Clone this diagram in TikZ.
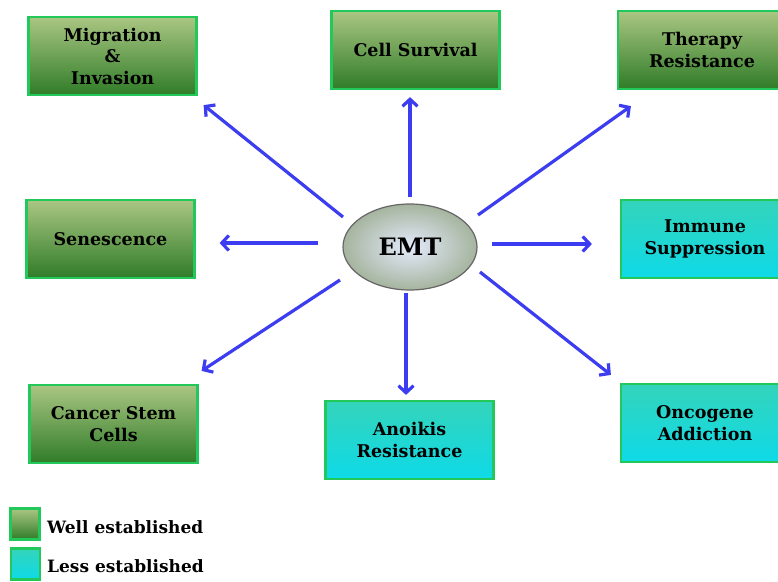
\documentclass[tikz,border=0pt]{standalone}
\usepackage{fontspec}
\setmainfont{DejaVu Serif}
\usetikzlibrary{arrows.meta,shapes.geometric}
\definecolor{gtop}{RGB}{170,198,130}
\definecolor{gbot}{RGB}{48,124,40}
\definecolor{ctop}{RGB}{52,212,186}
\definecolor{cbot}{RGB}{14,218,232}
\definecolor{boxline}{RGB}{34,200,90}
\definecolor{arrblue}{RGB}{60,60,240}
\definecolor{ellin}{RGB}{228,235,252}
\definecolor{ellout}{RGB}{165,180,158}
\begin{document}
\begin{tikzpicture}[x=1pt,y=-1pt,
  basebox/.style={draw=boxline,line width=2.2pt,minimum width=168pt,minimum height=78pt,
    align=center,inner sep=2pt,font=\fontsize{17.5}{21.5}\selectfont\bfseries},
  wbox/.style={basebox,top color=gtop,bottom color=gbot},
  lbox/.style={basebox,top color=ctop,bottom color=cbot},
  legw/.style={draw=boxline,line width=2.2pt,minimum width=29pt,minimum height=31pt,inner sep=0pt,top color=gtop,bottom color=gbot},
  legl/.style={draw=boxline,line width=2.2pt,minimum width=29pt,minimum height=31pt,inner sep=0pt,top color=ctop,bottom color=cbot},
  legtext/.style={anchor=west,inner sep=0pt,font=\fontsize{17}{20}\selectfont\bfseries},
  arr/.style={draw=arrblue,line width=3.2pt,-{Straight Barb[length=7pt,width=15pt]}}
]
\clip (0,0) rectangle (778,581);
\fill[white] (0,0) rectangle (778,581);

\node[ellipse,draw=gray!80!black,line width=1.2pt,inner color=ellin,outer color=ellout,
  minimum width=134pt,minimum height=86pt,inner sep=0pt,font=\fontsize{24}{28}\selectfont\bfseries]
  (emt) at (410,247) {EMT};

\node[wbox] (mig)  at (112.5,56) {Migration\\\&\\Invasion};
\node[wbox] (surv) at (415.5,50) {Cell Survival};
\node[wbox] (ther) at (702,50)   {Therapy\\Resistance};
\node[wbox] (sen)  at (110.5,239) {Senescence};
\node[lbox] (imm)  at (705,239)  {Immune\\Suppression};
\node[wbox] (csc)  at (113.5,424) {Cancer Stem\\Cells};
\node[lbox] (ano)  at (409.5,440) {Anoikis\\Resistance};
\node[lbox] (onc)  at (705,423)  {Oncogene\\Addiction};

\draw[arr] ([shift={(-67,-30)}]emt.center) -- ([shift={(6,9)}]mig.south east);
\draw[arr] ([shift={(0,-50)}]emt.center) -- ([shift={(-5.5,7)}]surv.south);
\draw[arr] ([shift={(68,-32)}]emt.center) -- ([shift={(14,16)}]ther.south west);
\draw[arr] ([shift={(-92,-4)}]emt.center) -- ([shift={(24,4)}]sen.east);
\draw[arr] ([shift={(82,-3)}]emt.center) -- ([shift={(-28,5)}]imm.west);
\draw[arr] ([shift={(-70,33)}]emt.center) -- ([shift={(3,-13)}]csc.north east);
\draw[arr] ([shift={(-4,46)}]emt.center) -- ([shift={(-3.5,-5)}]ano.north);
\draw[arr] ([shift={(70,25)}]emt.center) -- ([shift={(-9,-8)}]onc.north west);

\node[legw] (lg1) at (25,524) {};
\node[legtext] (lt1) at (47,527) {Well established};
\node[legl] (lg2) at (25.5,564) {};
\node[legtext] (lt2) at (47,566) {Less established};
\end{tikzpicture}
\end{document}
